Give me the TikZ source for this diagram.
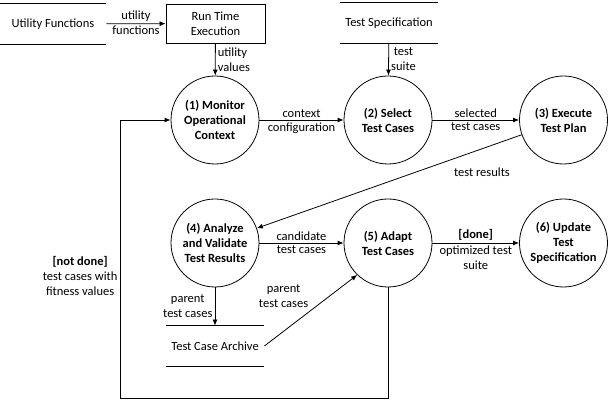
\documentclass[tikz,border=0pt]{standalone}
\usepackage{fontspec}
\setmainfont{Carlito}
\usetikzlibrary{arrows.meta}

\begin{document}
\begin{tikzpicture}[x=1pt,y=-1pt,line width=0.8pt,>={Latex[length=6pt,width=5pt]},
        every node/.style={font=\fontsize{12.5}{15}\selectfont,align=center,inner sep=2.2pt},
        proc/.style={draw,circle,minimum size=88pt,inner sep=0pt,font=\fontsize{12.5}{15}\selectfont\bfseries},
        store/.style={minimum width=98pt,minimum height=40pt},
        box/.style={draw,minimum width=99pt,minimum height=39pt}]
        \useasboundingbox (0,0) rectangle (608,403);
        % data stores
        \node[store,minimum width=106pt] (uf) at (53,24) {Utility Functions};
        \node[store] (ts) at (389,23) {Test Specification};
        \node[store] (tca) at (215,346) {Test Case Archive};
        \foreach \s in {uf,ts,tca}
            \draw (\s.north west) -- (\s.north east) (\s.south west) -- (\s.south east);
        \node[box] (rt) at (215.5,23.5) {Run Time\\Execution};
        % processes
        \node[proc] (c1) at (215,120) {(1) Monitor\\Operational\\Context};
        \node[proc] (c2) at (388,120) {(2) Select\\Test Cases};
        \node[proc] (c3) at (563.5,120) {(3) Execute\\Test Plan};
        \node[proc] (c4) at (215,243) {(4) Analyze\\and Validate\\Test Results};
        \node[proc] (c5) at (388,243) {(5) Adapt\\Test Cases};
        \node[proc] (c6) at (563.5,243) {(6) Update\\Test\\Specification};
        \coordinate (lp) at (120,398);
        % flows
        \draw[->] (uf) -- node[above]{utility} node[below]{functions} (rt);
        \draw[->] (rt) -- node[right,align=left]{utility\\values} (c1);
        \draw[->] (ts) -- node[right]{test\\suite} (c2);
        \draw[->] (c1) -- node[above]{context} node[below]{configuration} (c2);
        \draw[->] (c2) -- node[above]{selected} node[below]{test cases} (c3);
        \draw[->] (c3) -- node[pos=0.15,below=16pt]{test results} (c4);
        \draw[->] (c4) -- node[above]{candidate} node[below]{test cases} (c5);
        \draw[->] (c5) -- node[above]{\textbf{[done]}} node[below]{optimized test\\suite} (c6);
        \draw[->] (c4) -- node[left]{parent\\test cases} (tca);
        \draw[->] (tca.east) -- node[above left]{parent\\test cases} (c5.226);
        \draw[->] (c5) |- (lp) |- node[pos=0.22,left]{\textbf{[not done]}\\test cases with\\fitness values} (c1);
    \end{tikzpicture}
\end{document}
